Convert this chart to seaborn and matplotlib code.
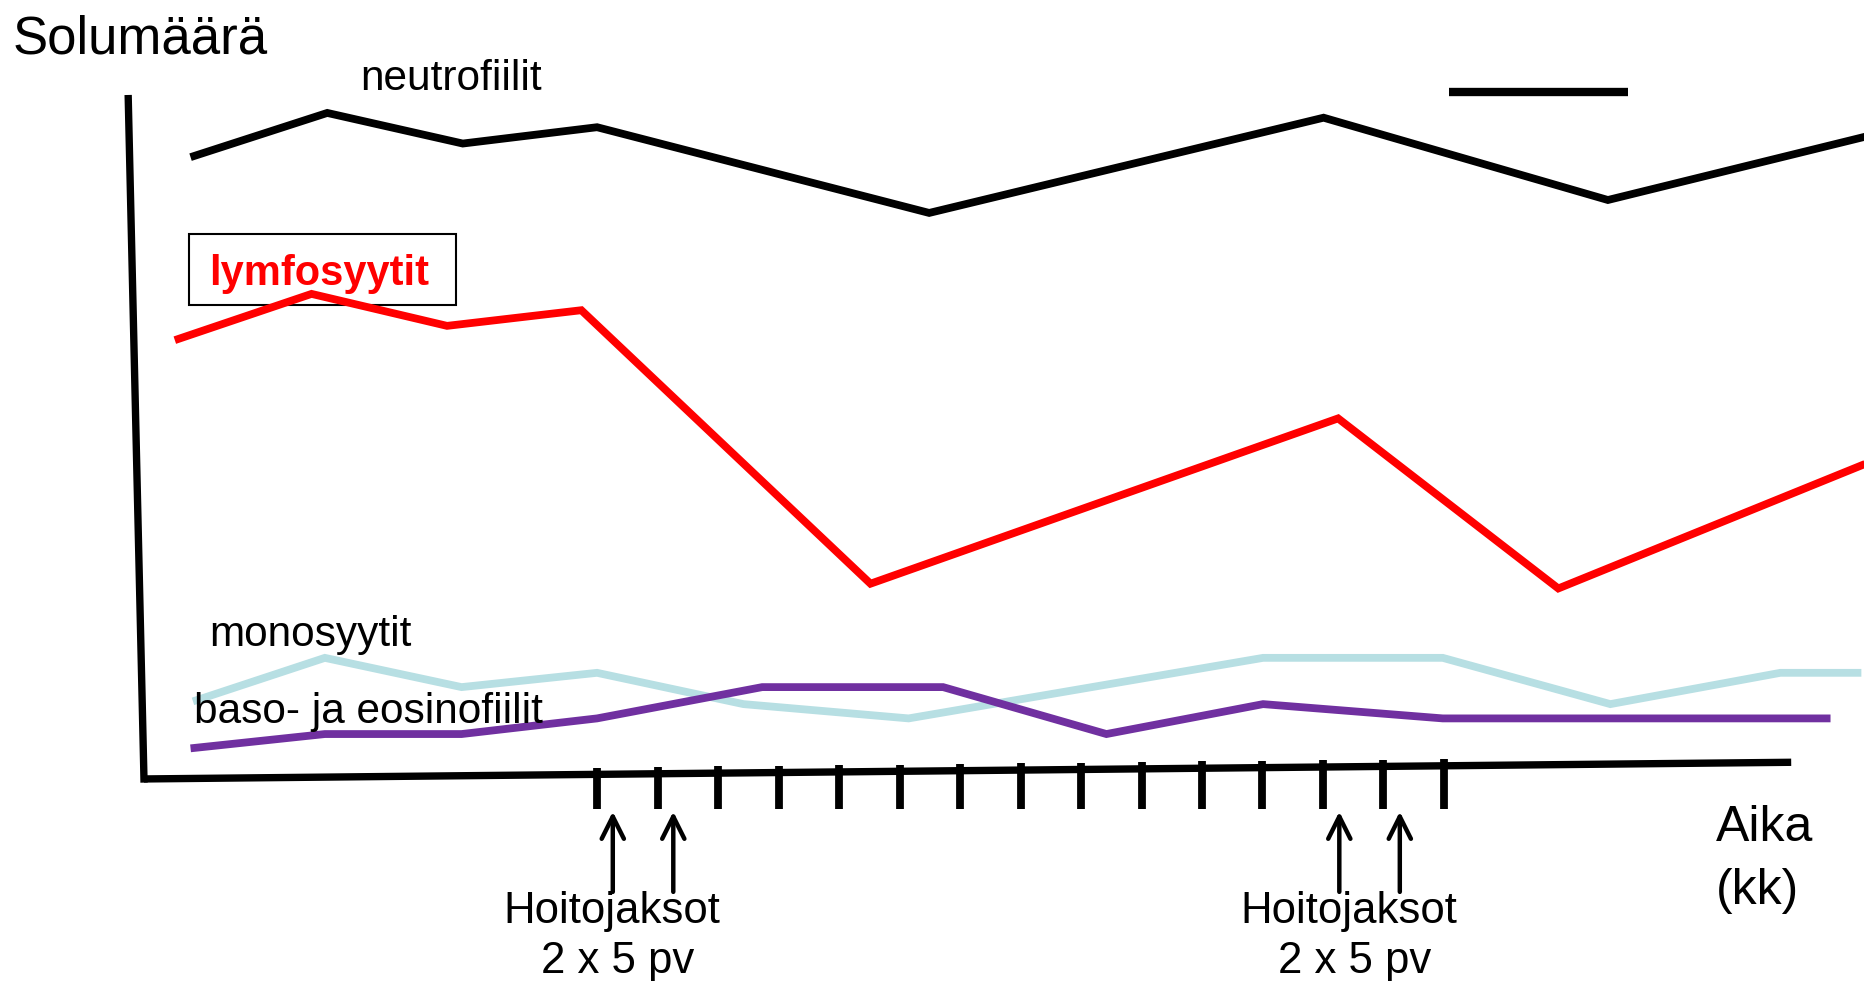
import numpy as np
import pandas as pd
import matplotlib
matplotlib.use("Agg")
import matplotlib.pyplot as plt
from matplotlib.patches import Rectangle
import seaborn as sns

# --- data: time in months (tick 0 = first treatment), cell count in relative units
neutro_x = [-6.72, -4.46, -2.22, 0.0, 5.49, 12.01, 16.71, 20.96]
neutro_y = [91.4, 97.9, 93.4, 95.8, 83.2, 97.2, 85.1, 94.4]

lymfo_x = [-6.98, -4.72, -2.48, -0.26, 4.52, 12.25, 15.89, 20.96]
lymfo_y = [64.5, 71.3, 66.6, 68.9, 28.7, 53.0, 28.0, 46.3]

mono_x = [-6.68, -4.50, -2.24, 0.0, 2.42, 5.15, 11.01, 13.98, 16.75, 19.56, 20.90]
mono_y = [11.4, 17.8, 13.5, 15.6, 11.0, 8.9, 17.8, 17.8, 11.0, 15.6, 15.6]

baso_x = [-6.72, -4.50, -2.24, 0.0, 2.73, 5.72, 8.42, 11.01, 13.98, 20.39]
baso_y = [4.5, 6.6, 6.6, 8.9, 13.5, 13.5, 6.6, 11.0, 8.9, 8.9]

series_names = ["neutrofiilit", "lymfosyytit", "monosyytit", "baso- ja eosinofiilit"]
series_colors = ["#000000", "#ff0000", "#b7dfe3", "#7030a0"]

months = np.arange(15)                 # tick marks along the time axis
treatment_months = [0.26, 1.26, 12.27, 13.27]

# hand-drawn axis lines (slightly tilted)
yaxis_x = [-7.75, -7.49]
yaxis_y = [100.0, 0.0]
xaxis_x = [-7.49, 19.74]
xaxis_y = [0.0, 2.45]

frames = []
for name, xs, ys in zip(series_names,
                        [neutro_x, lymfo_x, mono_x, baso_x],
                        [neutro_y, lymfo_y, mono_y, baso_y]):
    frames.append(pd.DataFrame({"aika": xs, "solumaara": ys, "solu": name}))
df = pd.concat(frames, ignore_index=True)

sns.set_style("white")
plt.rcParams["font.family"] = ["Liberation Sans", "DejaVu Sans"]
plt.rcParams["text.color"] = "black"

fig = plt.figure(figsize=(18.65, 9.81), dpi=100)
ax = fig.add_axes([0, 0, 1, 1])
ax.set_xlim(-9.87, 20.96)
ax.set_ylim(-29.7, 114.5)
ax.axis("off")

LW = 5.6

sns.lineplot(data=df, x="aika", y="solumaara", hue="solu",
             hue_order=series_names, palette=series_colors,
             estimator=None, sort=False, legend=False, lw=LW, ax=ax,
             zorder=3)
for line in ax.get_lines():
    line.set_solid_capstyle("butt")
    line.set_solid_joinstyle("miter")

# axes
ax.plot(yaxis_x, yaxis_y, color="black", lw=5.3, solid_capstyle="projecting")
ax.plot(xaxis_x, xaxis_y, color="black", lw=5.3, solid_capstyle="butt")

# tick marks hanging below the time axis
tick_top = np.interp(months, xaxis_x, xaxis_y) + 1.0
ax.vlines(months, -4.4, tick_top, colors="black", lw=5.6)

# treatment arrows
for m in treatment_months:
    ax.annotate("", xy=(m, -4.8), xytext=(m, -16.6),
                arrowprops=dict(arrowstyle="->,head_length=0.8,head_width=0.4",
                                lw=3.2, color="black", mutation_scale=20,
                                shrinkA=0, shrinkB=0))

# stray key bar
ax.plot([14.08, 17.05], [101.0, 101.0], color="black", lw=6.0, solid_capstyle="butt")

# labels
ax.text(-9.67, 106.6, "Solumäärä", fontsize=38, ha="left", va="baseline")
ax.text(-3.91, 101.2, "neutrofiilit", fontsize=30.5, ha="left", va="baseline")
ax.add_patch(Rectangle((-6.74, 69.6), 4.40, 10.5, fill=False,
                       edgecolor="black", lw=1.5, zorder=1))
ax.text(-6.41, 72.6, "lymfosyytit", fontsize=30, fontweight="bold",
        color="#ff0000", ha="left", va="baseline", zorder=2)
ax.text(-6.41, 19.6, "monosyytit", fontsize=30.5, ha="left", va="baseline", zorder=4)
ax.text(-6.67, 8.2, "baso- ja eosinofiilit", fontsize=30.5, ha="left",
        va="baseline", zorder=4)

ax.text(18.50, -9.1, "Aika", fontsize=36, ha="left", va="baseline")
ax.text(18.50, -18.4, "(kk)", fontsize=36, ha="left", va="baseline")

for cx1, cx2 in [(0.25, 0.34), (12.42, 12.52)]:
    ax.text(cx1, -21.2, "Hoitojaksot", fontsize=31.5, ha="center", va="baseline")
    ax.text(cx2, -28.5, "2 x 5 pv", fontsize=31.5, ha="center", va="baseline")

fig.savefig("out.png", dpi=100, facecolor="white")
